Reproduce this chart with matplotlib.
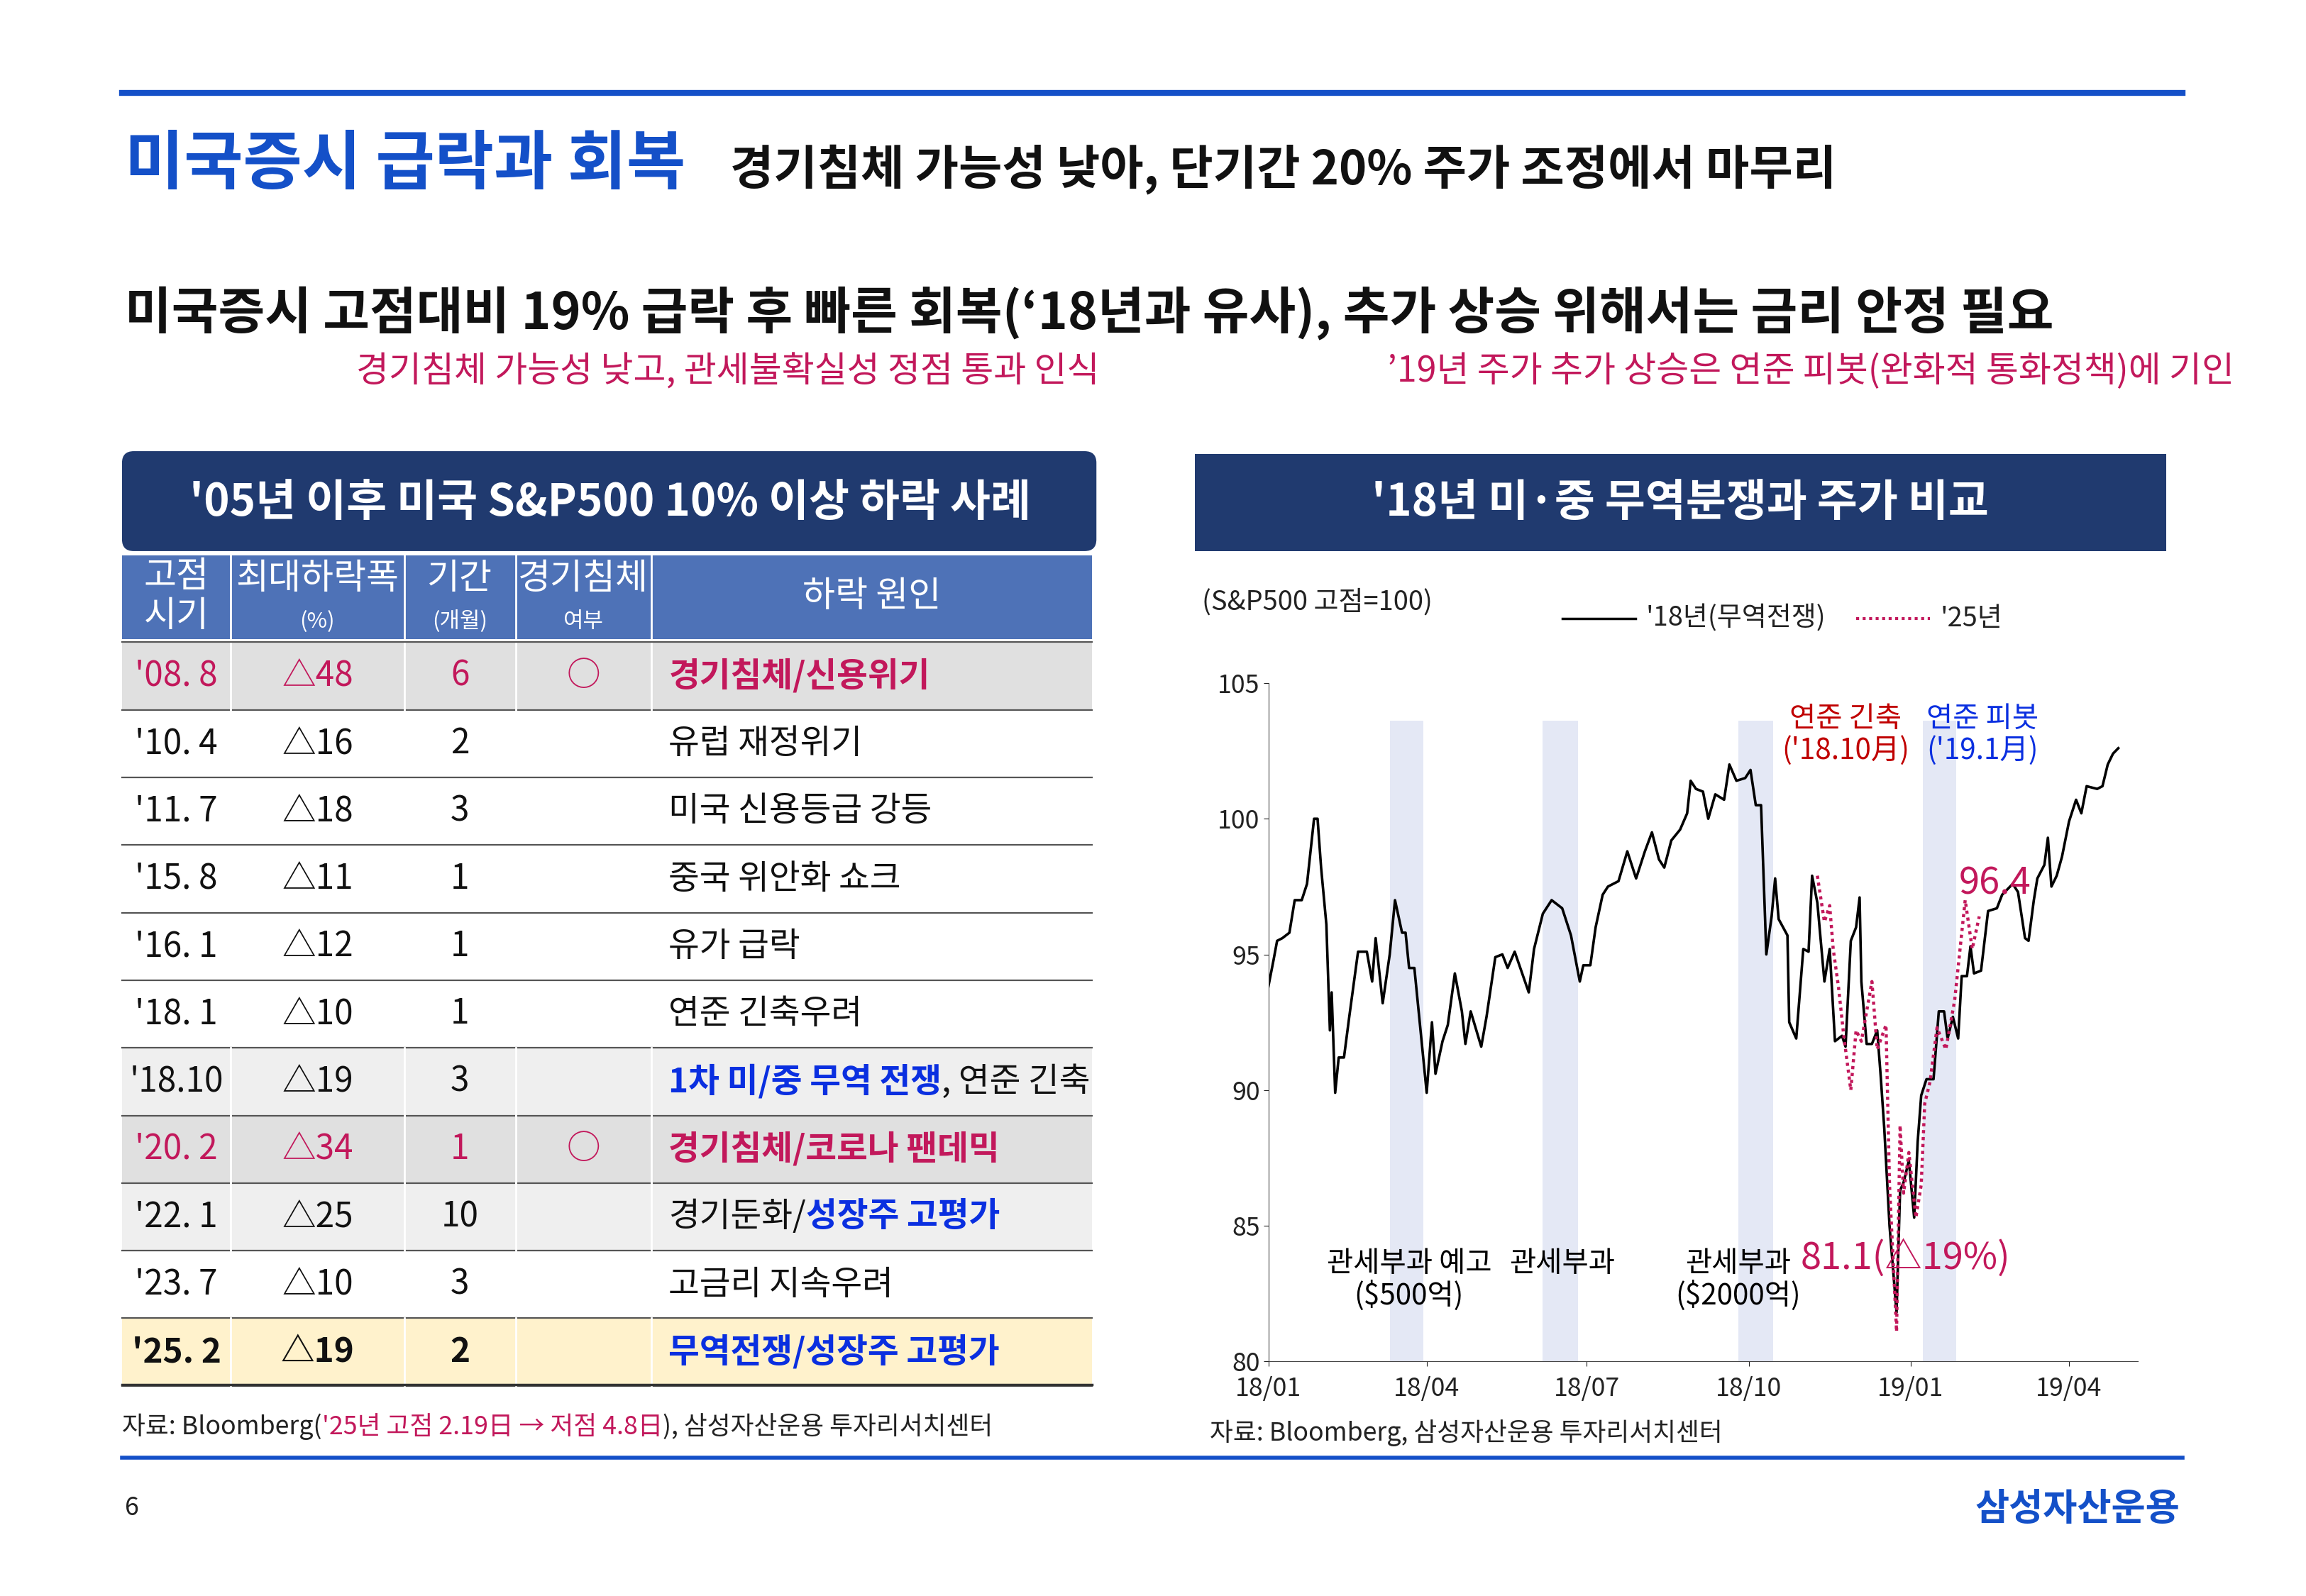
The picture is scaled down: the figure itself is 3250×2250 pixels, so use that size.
import numpy as np
import matplotlib.pyplot as plt
import matplotlib.dates as mdates
from matplotlib.patches import Rectangle, FancyBboxPatch
from matplotlib import font_manager

names = {f.name for f in font_manager.fontManager.ttflist}
kr = [n for n in ["Noto Sans CJK KR", "Noto Sans CJK JP", "Noto Sans CJK SC"] if n in names]
plt.rcParams["font.family"] = kr + ["DejaVu Sans"]

# ---- data -----------------------------------------------------------------
# '18 S&P500 (peak = 100), days since 2018-01-01
sp18_day = [0, 3, 5, 8, 12, 15, 19, 22, 26, 28, 30, 33, 35, 36, 38, 40, 43, 46, 51, 56,
            59, 61, 65, 69, 72, 76, 78, 80, 83, 90, 93, 95, 99, 102, 106, 110, 112, 115,
            121, 124, 129, 133, 136, 140, 148, 151, 156, 161, 167, 172, 177, 179, 183,
            186, 190, 193, 199, 204, 209, 214, 218, 222, 225, 229, 234, 238, 240, 243,
            247, 250, 254, 259, 262, 266, 271, 274, 277, 280, 283, 286, 288, 290, 295,
            296, 300, 304, 307, 309, 312, 316, 319, 322, 326, 328, 331, 334, 336, 337,
            340, 343, 346, 348, 350, 353, 357, 359, 361, 364, 367, 369, 371, 374, 378,
            381, 384, 386, 389, 392, 394, 397, 399, 401, 405, 409, 414, 417, 423, 426,
            430, 432, 435, 437, 441, 443, 445, 448, 451, 455, 459, 462, 465, 471, 474,
            477, 480, 483]
sp18_val = [93.8, 94.8, 95.5, 95.6, 95.8, 97.0, 97.0, 97.6, 100.0, 100.0, 98.2, 96.1,
            92.2, 93.6, 89.9, 91.2, 91.2, 92.7, 95.1, 95.1, 94.0, 95.6, 93.2, 95.0, 97.0,
            95.8, 95.8, 94.5, 94.5, 89.9, 92.5, 90.6, 91.8, 92.4, 94.3, 92.9, 91.7, 92.9,
            91.6, 92.7, 94.9, 95.0, 94.5, 95.1, 93.6, 95.2, 96.5, 97.0, 96.7, 95.7, 94.0,
            94.6, 94.6, 96.0, 97.2, 97.5, 97.7, 98.8, 97.8, 98.8, 99.5, 98.5, 98.2, 99.2,
            99.6, 100.2, 101.4, 101.1, 101.0, 100.0, 100.9, 100.7, 102.0, 101.4, 101.5,
            101.8, 100.5, 100.5, 95.0, 96.4, 97.8, 96.3, 95.7, 92.5, 91.9, 95.2, 95.1,
            97.9, 96.9, 94.0, 95.2, 91.8, 92.0, 91.6, 95.5, 96.0, 97.1, 94.0, 91.7, 91.7,
            92.2, 90.5, 88.6, 85.0, 81.8, 86.3, 86.6, 87.4, 85.3, 88.1, 89.8, 90.4, 90.4,
            92.9, 92.9, 91.9, 92.7, 91.9, 94.2, 94.2, 95.3, 94.3, 94.4, 96.6, 96.7, 97.2,
            97.6, 97.3, 95.6, 95.5, 97.0, 97.8, 98.3, 99.3, 97.5, 97.9, 98.6, 99.9, 100.7,
            100.2, 101.2, 101.1, 101.2, 102.0, 102.4, 102.6]
# '25 path, laid on the same calendar
sp25_day = [312, 316, 319, 321, 324, 327, 331, 334, 337, 343, 346, 351, 353, 357, 359,
            361, 364, 368, 371, 373, 376, 380, 385, 390, 396, 400, 404]
sp25_val = [97.9, 96.2, 96.8, 95.2, 93.8, 92.0, 90.0, 92.2, 91.8, 94.0, 91.5, 92.4,
            86.5, 81.1, 88.7, 86.2, 87.7, 85.3, 86.5, 89.5, 90.3, 92.3, 91.5, 93.3,
            97.0, 95.2, 96.4]
band_start = ["2018-03-11", "2018-06-06", "2018-09-25", "2019-01-08"]
band_end = ["2018-03-30", "2018-06-26", "2018-10-15", "2019-01-27"]

tbl_dates = ["'08. 8", "'10. 4", "'11. 7", "'15. 8", "'16. 1", "'18. 1", "'18.10",
             "'20. 2", "'22. 1", "'23. 7", "'25. 2"]
tbl_drop = ["△48", "△16", "△18", "△11", "△12", "△10", "△19", "△34", "△25", "△10", "△19"]
tbl_months = ["6", "2", "3", "1", "1", "1", "3", "1", "10", "3", "2"]
tbl_recess = ["○", "", "", "", "", "", "", "○", "", "", ""]
tbl_cause = [[("경기침체/신용위기", "r")], [("유럽 재정위기", "k")], [("미국 신용등급 강등", "k")],
             [("중국 위안화 쇼크", "k")], [("유가 급락", "k")], [("연준 긴축우려", "k")],
             [("1차 미/중 무역 전쟁", "b"), (", 연준 긴축", "k")],
             [("경기침체/코로나 팬데믹", "r")],
             [("경기둔화/", "k"), ("성장주 고평가", "b")], [("고금리 지속우려", "k")],
             [("무역전쟁/성장주 고평가", "b")]]
row_bg = ["#e0e0e0", "white", "white", "white", "white", "white", "#efefef",
          "#e0e0e0", "#efefef", "white", "#fff2cc"]

NAVY = "#203a6f"
HBLUE = "#4e72b7"
BLUE = "#1450c8"
PINK = "#c2185b"
CLR = {"k": "#111111", "r": PINK, "b": "#0a2fe0"}

# ---- page -------------------------------------------------------------------
W, H = 1569, 1086
fig = plt.figure(figsize=(32.5, 22.5), dpi=100)
pg = fig.add_axes([0, 0, 1, 1])
pg.set_xlim(0, W)
pg.set_ylim(H, 0)
pg.axis("off")


def fs(h):
    # glyph height on the page grid -> font size in points
    return h * 2.071 / 0.9 * 0.745


pg.plot([83, 1485], [63, 63], color=BLUE, lw=6)
pg.plot([83, 1485], [992, 992], color=BLUE, lw=4)
pg.text(85, 112, "미국증시 급락과 회복", color=BLUE, fontsize=fs(38), weight="bold", va="center")
pg.text(497, 115, "경기침체 가능성 낮아, 단기간 20% 주가 조정에서 마무리", color="#111",
        fontsize=fs(28), weight="bold", va="center")
pg.text(85, 213, "미국증시 고점대비 19% 급락 후 빠른 회복(‘18년과 유사), 추가 상승 위해서는 금리 안정 필요",
        color="#111", fontsize=fs(30), weight="bold", va="center")
pg.text(495, 253, "경기침체 가능성 낮고, 관세불확실성 정점 통과 인식", color=PINK, fontsize=fs(21),
        ha="center", va="center")
pg.text(1520, 253, "’19년 주가 추가 상승은 연준 피봇(완화적 통화정책)에 기인", color=PINK,
        fontsize=fs(21), ha="right", va="center")
pg.text(85, 1026, "6", fontsize=fs(15), va="center", color="#222")
pg.text(1483, 1027, "삼성자산운용", color=BLUE, fontsize=fs(22), weight="bold", ha="right", va="center")

# ---- table ------------------------------------------------------------------
pg.add_patch(FancyBboxPatch((83, 307), 663, 68, boxstyle="round,pad=0,rounding_size=8",
                            fc=NAVY, ec="none"))
pg.text(415, 342, "'05년 이후 미국 S&P500 10% 이상 하락 사례", color="white",
        fontsize=fs(26), weight="bold", ha="center", va="center")

cols = [83, 157, 275, 351, 443, 743]
pg.add_patch(Rectangle((83, 378), 660, 57, fc=HBLUE, ec="none"))
for c in cols[1:-1]:
    pg.plot([c, c], [378, 435], color="white", lw=2)
hdr = [("고점\n시기", ""), ("최대하락폭", "(%)"), ("기간", "(개월)"), ("경기침체", "여부")]
pg.text(120, 406, "고점\n시기", color="white", fontsize=fs(21), ha="center", va="center",
        linespacing=1.1)
for i, (a, b) in enumerate(hdr[1:], start=1):
    cx = (cols[i] + cols[i + 1]) / 2
    pg.text(cx, 394, a, color="white", fontsize=fs(21), ha="center", va="center")
    pg.text(cx, 423, b, color="white", fontsize=fs(13), ha="center", va="center")
pg.text(593, 406, "하락 원인", color="white", fontsize=fs(21), ha="center", va="center")

row_h = 46
fig.canvas.draw()
rend = fig.canvas.get_renderer()
inv = pg.transData.inverted()
for i in range(len(tbl_dates)):
    y0 = 437 + i * row_h
    pg.add_patch(Rectangle((83, y0), 660, row_h, fc=row_bg[i], ec="none"))
    pg.plot([83, 743], [y0 + row_h, y0 + row_h], color="#555555", lw=1.6)
    if row_bg[i] != "white":
        for c in cols[1:-1]:
            pg.plot([c, c], [y0, y0 + row_h], color="white", lw=2)
    yc = y0 + row_h / 2
    hot = i in (0, 7)
    col = PINK if hot else "#111"
    wt = "bold" if i == 10 else "normal"
    pg.text(120, yc, tbl_dates[i], color=col, fontsize=fs(20), ha="center", va="center", weight=wt)
    pg.text(216, yc, tbl_drop[i], color=col, fontsize=fs(20), ha="center", va="center", weight=wt)
    pg.text(313, yc, tbl_months[i], color=col, fontsize=fs(20), ha="center", va="center", weight=wt)
    pg.text(397, yc, tbl_recess[i], color=col, fontsize=fs(20), ha="center", va="center")
    x = 455
    for txt, k in tbl_cause[i]:
        bold = "bold" if k != "k" else "normal"
        t = pg.text(x, yc, txt, color=CLR[k], fontsize=fs(20), va="center", weight=bold)
        bb = t.get_window_extent(rend)
        x = inv.transform((bb.x1, bb.y0))[0]
pg.plot([83, 743], [437, 437], color="#555555", lw=1.6)
pg.plot([83, 743], [942, 942], color="#333333", lw=2.5)

x = 83
for txt, c in [("자료: Bloomberg(", "#222"), ("'25년 고점 2.19日 → 저점 4.8日", PINK),
               ("), 삼성자산운용 투자리서치센터", "#222")]:
    t = pg.text(x, 971, txt, color=c, fontsize=fs(15), va="center")
    bb = t.get_window_extent(rend)
    x = inv.transform((bb.x1, bb.y0))[0]

# ---- chart ------------------------------------------------------------------
pg.add_patch(Rectangle((813, 309), 661, 66, fc=NAVY, ec="none"))
pg.text(1143, 342, "'18년 미·중 무역분쟁과 주가 비교", color="white", fontsize=fs(26),
        weight="bold", ha="center", va="center")
pg.text(818, 410, "(S&P500 고점=100)", fontsize=fs(16), color="#222", va="center")
pg.plot([1063, 1113], [421, 421], color="black", lw=2.5)
pg.text(1120, 421, "'18년(무역전쟁)", fontsize=fs(16), color="#222", va="center")
pg.plot([1263, 1313], [421, 421], color=PINK, lw=3, ls=(0, (1, 1.2)))
pg.text(1320, 421, "'25년", fontsize=fs(16), color="#222", va="center")
pg.text(823, 975, "자료: Bloomberg, 삼성자산운용 투자리서치센터", fontsize=fs(15), color="#222",
        va="center")

ax = fig.add_axes([0.550, 0.147, 0.377, 0.425])
base = np.datetime64("2018-01-01")
d18 = base + np.array(sp18_day).astype("timedelta64[D]")
d25 = base + np.array(sp25_day).astype("timedelta64[D]")
for s, e in zip(band_start, band_end):
    ax.axvspan(np.datetime64(s), np.datetime64(e), ymax=0.945, color="#e4e8f5", lw=0)
ax.plot(d18, sp18_val, color="black", lw=2.6)
ax.plot(d25, sp25_val, color=PINK, lw=3.2, ls=(0, (1, 1.2)))
ax.set_xlim(base, np.datetime64("2019-05-10"))
ax.set_ylim(80, 105)
ax.set_yticks([80, 85, 90, 95, 100, 105])
ax.xaxis.set_major_locator(mdates.MonthLocator(bymonth=[1, 4, 7, 10]))
ax.xaxis.set_major_formatter(mdates.DateFormatter("%y/%m"))
for sp in ["top", "right"]:
    ax.spines[sp].set_visible(False)
ax.spines["left"].set_color("#444")
ax.spines["bottom"].set_color("#444")
ax.tick_params(labelsize=fs(15), colors="#222", length=5)
ax.tick_params(axis="x", pad=10)


def dd(s):
    return mdates.date2num(np.datetime64(s))


ax.text(dd("2018-11-25"), 103.1, "연준 긴축\n('18.10月)", color="#c00000", fontsize=fs(17),
        ha="center", va="center", linespacing=1.1)
ax.text(dd("2019-02-11"), 103.1, "연준 피봇\n('19.1月)", color="#0a2fe0", fontsize=fs(17),
        ha="center", va="center", linespacing=1.1)
ax.text(dd("2019-02-18"), 97.6, "96.4", color=PINK, fontsize=fs(22), ha="center", va="center")
ax.text(dd("2018-12-29"), 83.8, "81.1(△19%)", color=PINK, fontsize=fs(22), ha="center",
        va="center")
ax.text(dd("2018-03-22"), 83.0, "관세부과 예고\n($500억)", fontsize=fs(17), ha="center",
        va="center", linespacing=1.1)
ax.text(dd("2018-06-17"), 83.6, "관세부과", fontsize=fs(17), ha="center", va="center")
ax.text(dd("2018-09-25"), 83.0, "관세부과\n($2000억)", fontsize=fs(17), ha="center",
        va="center", linespacing=1.1)

fig.savefig("out.png", dpi=100)
